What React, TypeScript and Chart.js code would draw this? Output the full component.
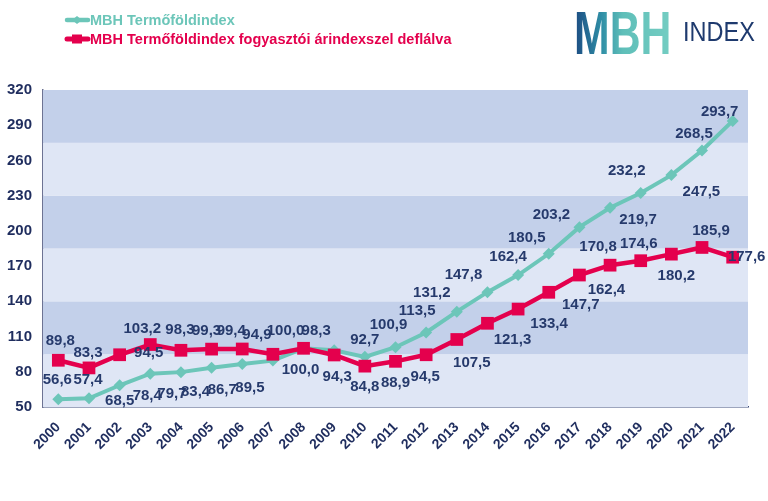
import React, { useEffect, useRef } from "react";
import { Chart, registerables } from "chart.js";

Chart.register(...registerables);

const years = ["2000","2001","2002","2003","2004","2005","2006","2007","2008","2009","2010","2011","2012","2013","2014","2015","2016","2017","2018","2019","2020","2021","2022"];
const termofoldIndex = [56.6, 57.4, 68.5, 78.4, 79.7, 83.4, 86.7, 89.5, 100.0, 98.3, 92.7, 100.9, 113.5, 131.2, 147.8, 162.4, 180.5, 203.2, 219.7, 232.2, 247.5, 268.5, 293.7];
const deflaltIndex = [89.8, 83.3, 94.5, 103.2, 98.3, 99.3, 99.4, 94.9, 100.0, 94.3, 84.8, 88.9, 94.5, 107.5, 121.3, 133.4, 147.7, 162.4, 170.8, 174.6, 180.2, 185.9, 177.6];
const seriesNames = ["MBH Termőföldindex", "MBH Termőföldindex fogyasztói árindexszel deflálva"];
const yMin = 50;
const yMax = 320;
const yStep = 30;
const bandCount = 6;

// label placement offsets (px) relative to each point
const tealLabelOffsets = [[-1,-19],[-1,-18],[0,16],[-3,22],[-9,22],[-16,24],[-20,26],[-23,27],[-3,22],[-18,-19],[0,-17],[-7,-22],[-9,-22],[-25,-19],[-24,-17],[-10,-18],[-22,-16],[-28,-12],[28,12],[-14,-22],[30,17],[-8,-17],[-13,-9]];
const redLabelOffsets = [[2,-19],[-1,-15],[29,-2],[-8,-16],[-1,-20],[-5,-18],[-11,-18],[-16,-19],[-18,-17],[3,22],[0,21],[0,22],[-1,22],[15,23],[25,17],[31,15],[32,13],[27,15],[-12,-18],[-2,-17],[5,22],[9,-17],[14,0]];

const TEAL = "#6cc6b9";
const RED = "#e4004d";
const NAVY = "#1f2d5e";
const FONT = "'Liberation Sans', Arial, sans-serif";

const fmt = (v: number) => v.toFixed(1).replace(".", ",");

const bandsPlugin = {
  id: "bands",
  beforeDatasetsDraw(chart: any) {
    const { ctx, chartArea, scales } = chart;
    const y = scales.y;
    const step = (yMax - yMin) / bandCount;
    ctx.save();
    for (let i = 0; i < bandCount; i++) {
      const top = y.getPixelForValue(yMin + step * (i + 1));
      const bot = y.getPixelForValue(yMin + step * i);
      ctx.fillStyle = i % 2 === 0 ? "#dfe6f5" : "#c3d0ea";
      ctx.fillRect(chartArea.left, top, chartArea.right - chartArea.left, bot - top);
    }
    ctx.restore();
  },
};

const labelsPlugin = {
  id: "valueLabels",
  afterDatasetsDraw(chart: any) {
    const { ctx } = chart;
    ctx.save();
    ctx.font = `bold 15px ${FONT}`;
    ctx.fillStyle = "#263a6c";
    ctx.textAlign = "center";
    ctx.textBaseline = "middle";
    const offsets = [tealLabelOffsets, redLabelOffsets];
    chart.data.datasets.forEach((ds: any, di: number) => {
      const meta = chart.getDatasetMeta(di);
      meta.data.forEach((pt: any, i: number) => {
        const [dx, dy] = offsets[di][i];
        ctx.fillText(fmt(ds.data[i]), pt.x + dx, pt.y + dy);
      });
    });
    ctx.restore();
  },
};

const legendPlugin = {
  id: "customLegend",
  afterDraw(chart: any) {
    const { ctx } = chart;
    ctx.save();
    const items = [
      { color: TEAL, y: 20, marker: "diamond", text: seriesNames[0] },
      { color: RED, y: 39, marker: "square", text: seriesNames[1] },
    ];
    items.forEach((it) => {
      ctx.strokeStyle = it.color;
      ctx.fillStyle = it.color;
      ctx.lineCap = "round";
      ctx.lineWidth = it.marker === "square" ? 5 : 4.5;
      ctx.beginPath();
      ctx.moveTo(67, it.y);
      ctx.lineTo(88, it.y);
      ctx.stroke();
      if (it.marker === "diamond") {
        ctx.beginPath();
        ctx.moveTo(77 - 5, it.y);
        ctx.lineTo(77, it.y - 4);
        ctx.lineTo(77 + 5, it.y);
        ctx.lineTo(77, it.y + 4);
        ctx.closePath();
        ctx.fill();
      } else {
        ctx.fillRect(72, it.y - 4.5, 10, 9);
      }
      ctx.font = `bold 14.5px ${FONT}`;
      ctx.textAlign = "left";
      ctx.textBaseline = "middle";
      ctx.fillText(it.text, 90, it.y + 1);
    });
    ctx.restore();
  },
};

export default function App() {
  const ref = useRef<HTMLCanvasElement | null>(null);

  useEffect(() => {
    if (!ref.current) return;
    const chart = new Chart(ref.current, {
      type: "line",
      data: {
        labels: years,
        datasets: [
          {
            label: seriesNames[0],
            data: termofoldIndex,
            borderColor: TEAL,
            backgroundColor: TEAL,
            borderWidth: 4,
            pointStyle: "rectRot",
            pointRadius: 6,
            pointBorderWidth: 0,
            pointBackgroundColor: TEAL,
            order: 1,
          },
          {
            label: seriesNames[1],
            data: deflaltIndex,
            borderColor: RED,
            backgroundColor: RED,
            borderWidth: 4.5,
            pointStyle: "rect",
            pointRadius: 9,
            pointBorderWidth: 0,
            pointBackgroundColor: RED,
            order: 0,
          },
        ],
      },
      options: {
        responsive: false,
        animation: false,
        devicePixelRatio: 1,
        layout: { padding: { top: 90, right: 20, left: 0, bottom: 0 } },
        plugins: {
          legend: { display: false },
          tooltip: { enabled: false },
        },
        scales: {
          x: {
            type: "category",
            offset: true,
            grid: { display: false, drawTicks: false },
            border: { display: true, color: "#3c4c7c", width: 1.5 },
            ticks: {
              autoSkip: false,
              maxRotation: 45,
              minRotation: 45,
              padding: 12,
              color: NAVY,
              font: { family: FONT, size: 14, weight: "bold" },
            },
            afterFit(scale: any) {
              scale.height = 94;
            },
          },
          y: {
            min: yMin,
            max: yMax,
            grid: { display: false, drawTicks: false },
            border: { display: true, color: "#6d7393", width: 1.5 },
            ticks: {
              stepSize: yStep,
              padding: 11,
              color: NAVY,
              font: { family: FONT, size: 15, weight: "bold" },
            },
            afterFit(scale: any) {
              scale.width = 43;
            },
          },
        },
      },
      plugins: [bandsPlugin, labelsPlugin, legendPlugin],
    } as any);
    return () => chart.destroy();
  }, []);

  return (
    <div style={{ position: "absolute", left: 0, top: 0, width: 768, height: 501, background: "#fff", overflow: "hidden" }}>
      <canvas ref={ref} width={768} height={501} style={{ position: "absolute", left: 0, top: 0, width: 768, height: 501 }} />
      <span
        style={{
          position: "absolute",
          left: 574,
          top: 2,
          fontFamily: FONT,
          fontWeight: 700,
          fontSize: 62,
          lineHeight: 1,
          display: "inline-block",
          transform: "scaleX(0.69)",
          transformOrigin: "left top",
          background: "linear-gradient(90deg, #1c4b82 0%, #2f8ea6 28%, #5fbfb9 50%, #74cdc2 100%)",
          WebkitBackgroundClip: "text",
          backgroundClip: "text",
          color: "transparent",
          whiteSpace: "nowrap",
        }}
      >
        MBH
      </span>
      <span
        style={{
          position: "absolute",
          left: 683,
          top: 18,
          fontFamily: FONT,
          fontWeight: 400,
          fontSize: 28,
          lineHeight: 1,
          display: "inline-block",
          transform: "scaleX(0.84)",
          transformOrigin: "left top",
          color: "#1e3a6e",
          whiteSpace: "nowrap",
        }}
      >
        INDEX
      </span>
    </div>
  );
}
